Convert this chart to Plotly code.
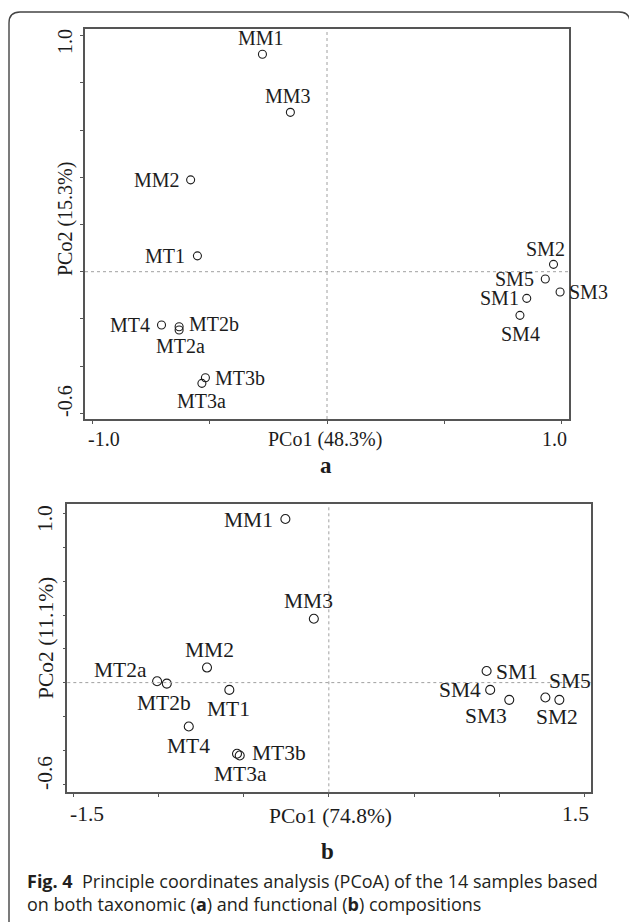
import plotly.graph_objects as go

W, H = 629, 922

# ---- data -------------------------------------------------------------
samples = ["MM1", "MM2", "MM3", "MT1", "MT2a", "MT2b", "MT3a", "MT3b",
           "MT4", "SM1", "SM2", "SM3", "SM4", "SM5"]

# (a) taxonomic composition
taxo_pco1 = [-0.275, -0.581, -0.156, -0.552, -0.630, -0.630, -0.533, -0.518,
             -0.705, 0.851, 0.965, 0.993, 0.822, 0.930]
taxo_pco2 = [0.921, 0.389, 0.675, 0.067, -0.247, -0.233, -0.473, -0.449,
             -0.226, -0.113, 0.031, -0.086, -0.185, -0.031]

# (b) functional composition
func_pco1 = [-0.255, -0.715, -0.088, -0.584, -1.008, -0.951, -0.539, -0.523,
             -0.822, 0.926, 1.353, 1.059, 0.947, 1.271]
func_pco2 = [0.968, 0.089, 0.378, -0.043, 0.008, -0.006, -0.421, -0.431,
             -0.260, 0.069, -0.102, -0.102, -0.043, -0.088]

taxo_xticks = [-1.0, -0.5, 0.0, 0.5, 1.0]
func_xticks = [-1.5, -1.0, -0.5, 0.0, 0.5, 1.0, 1.5]
pco2_ticks = [-0.6, -0.4, -0.2, 0.0, 0.2, 0.4, 0.6, 0.8, 1.0]

taxo_xlabels = ["-1.0", "PCo1 (48.3%)", "1.0"]
taxo_ylabels = ["-0.6", "PCo2 (15.3%)", "1.0"]
func_xlabels = ["-1.5", "PCo1 (74.8%)", "1.5"]
func_ylabels = ["-0.6", "PCo2 (11.1%)", "1.0"]

panel_tags = ["a", "b"]
caption_lines = [
    "<b>Fig. 4</b>  Principle coordinates analysis (PCoA) of the 14 samples based",
    "on both taxonomic (<b>a</b>) and functional (<b>b</b>) compositions",
]

# ---- label placement: (anchor, xshift px, yshift px down) --------------
place_a = {
    "MM1": ("center", -1, -16), "MM2": ("right", -9, 0), "MM3": ("center", -2, -16),
    "MT1": ("right", -10, 0), "MT2a": ("center", 1, 16), "MT2b": ("left", 8, -3),
    "MT3a": ("center", 0, 18), "MT3b": ("left", 8, 0), "MT4": ("right", -10, 0),
    "SM1": ("right", -6, 0), "SM2": ("center", -8, -15), "SM3": ("left", 7, 0),
    "SM4": ("center", 1, 19), "SM5": ("right", -9, 0),
}
place_b = {
    "MM1": ("right", -10, 1), "MM2": ("center", 2, -18), "MM3": ("center", -5, -18),
    "MT1": ("center", -1, 19), "MT2a": ("right", -8, -11), "MT2b": ("center", -3, 19),
    "MT3a": ("center", 3, 20), "MT3b": ("left", 10, -2), "MT4": ("center", 0, 19),
    "SM1": ("left", 7, 1), "SM2": ("center", -2, 17), "SM3": ("center", -23, 16),
    "SM4": ("right", -7, 0), "SM5": ("left", 2, -16),
}

SERIF = "Liberation Serif, Times New Roman, serif"
SANS = "Open Sans, sans-serif"
INK = "#1c1c1c"
FRAME = "#555555"


def fx(p):
    return p / W


def fy(p):
    return 1 - p / H


fig = go.Figure()

panels = [
    dict(x=taxo_pco1, y=taxo_pco2, xa="x", ya="y", place=place_a, msize=8, fsize=20),
    dict(x=func_pco1, y=func_pco2, xa="x2", ya="y2", place=place_b, msize=9, fsize=21.5),
]

annotations = []
shapes = []

for p in panels:
    fig.add_trace(go.Scatter(
        x=p["x"], y=p["y"], xaxis=p["xa"], yaxis=p["ya"], mode="markers",
        marker=dict(symbol="circle-open", size=p["msize"], color=INK,
                    line=dict(width=1.1, color=INK)),
        hoverinfo="text", text=samples, showlegend=False,
    ))
    for name, xv, yv in zip(samples, p["x"], p["y"]):
        anchor, dx, dy = p["place"][name]
        annotations.append(dict(
            x=xv, y=yv, xref=p["xa"], yref=p["ya"], text=name, showarrow=False,
            xanchor=anchor, yanchor="middle", xshift=dx, yshift=-dy,
            font=dict(family=SERIF, size=p["fsize"], color=INK),
        ))
    # dotted reference lines through the origin
    shapes.append(dict(type="line", xref=p["xa"], yref=p["ya"] + " domain",
                       x0=0, x1=0, y0=0, y1=1,
                       line=dict(color="#a0a0a0", width=1, dash="dot")))
    shapes.append(dict(type="line", xref=p["xa"] + " domain", yref=p["ya"],
                       x0=0, x1=1, y0=0, y1=0,
                       line=dict(color="#a0a0a0", width=1, dash="dot")))

axis_common = dict(showgrid=False, zeroline=False, showline=True, mirror=True,
                   linecolor=FRAME, linewidth=1.6, ticks="outside", ticklen=3,
                   tickwidth=1.2, tickcolor=FRAME, showticklabels=False)

fig.update_layout(
    width=W, height=H, margin=dict(l=0, r=0, t=0, b=0),
    paper_bgcolor="white", plot_bgcolor="white",
    xaxis=dict(axis_common, domain=[fx(85), fx(569)], range=[-1.031, 1.031],
               tickvals=taxo_xticks, anchor="y"),
    yaxis=dict(axis_common, domain=[fy(419), fy(29)], range=[-0.624, 1.028],
               tickvals=pco2_ticks, anchor="x"),
    xaxis2=dict(axis_common, domain=[fx(67.3), fx(590.7)], range=[-1.535, 1.537],
                tickvals=func_xticks, anchor="y2"),
    yaxis2=dict(axis_common, domain=[fy(792.3), fy(504.3)], range=[-0.649, 1.055],
                tickvals=pco2_ticks, anchor="x2"),
)


def text_at(px, py, txt, size, anchor="center", angle=0, family=SERIF, color=INK):
    annotations.append(dict(x=fx(px), y=fy(py), xref="paper", yref="paper",
                            text=txt, showarrow=False, xanchor=anchor,
                            yanchor="middle", textangle=angle, align="left",
                            font=dict(family=family, size=size, color=color)))


# axis end labels and titles, panel a
text_at(86, 439, taxo_xlabels[0], 20, "left")
text_at(325, 439, taxo_xlabels[1], 20)
text_at(569, 439, taxo_xlabels[2], 20, "right")
text_at(65, 401, taxo_ylabels[0], 20, angle=-90)
text_at(65, 219, taxo_ylabels[1], 20, angle=-90)
text_at(65, 42, taxo_ylabels[2], 20, angle=-90)

# axis end labels and titles, panel b
text_at(68, 814, func_xlabels[0], 21.5, "left")
text_at(330, 816, func_xlabels[1], 21.5)
text_at(591, 814, func_xlabels[2], 21.5, "right")
text_at(45, 773, func_ylabels[0], 21.5, angle=-90)
text_at(46, 638, func_ylabels[1], 21.5, angle=-90)
text_at(45, 519, func_ylabels[2], 21.5, angle=-90)

# panel tags
text_at(326, 465, "<b>%s</b>" % panel_tags[0], 23)
text_at(327, 851, "<b>%s</b>" % panel_tags[1], 23)

# two-line caption as one text block
text_at(25, 892, "<br>".join(caption_lines), 18, "left", family=SANS, color="#231f20")

# outer frame with rounded top corners
L, T, R, B, r = 9, 12, 630, 940, 11
path = (f"M {fx(L)},{fy(B)} L {fx(L)},{fy(T + r)} Q {fx(L)},{fy(T)} {fx(L + r)},{fy(T)} "
        f"L {fx(R - r)},{fy(T)} Q {fx(R)},{fy(T)} {fx(R)},{fy(T + r)} L {fx(R)},{fy(B)}")
shapes.append(dict(type="path", xref="paper", yref="paper", path=path,
                   line=dict(color="#444444", width=1.4)))

fig.update_layout(annotations=annotations, shapes=shapes)
fig.write_html("out.html")
